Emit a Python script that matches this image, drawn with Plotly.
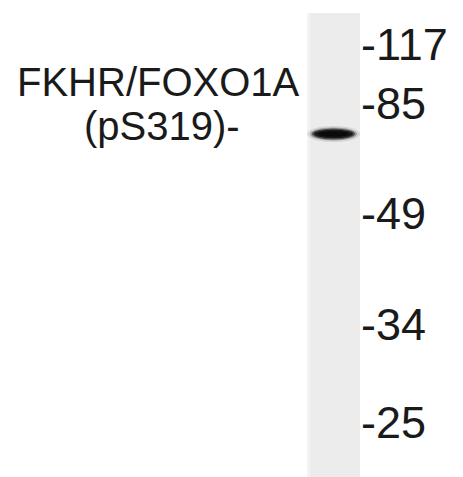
import plotly.graph_objects as go

# ---- data read from the blot ----
ladder_kda = [117, 85, 49, 34, 25]
ladder_migration = [44, 103, 213, 324, 422]   # migration distance (px from top of image)
ladder_text = ["-117", "-85", "-49", "-34", "-25"]
target_lines = ["FKHR/FOXO1A", "(pS319)-"]
band_migration = [134]

W, H = 463, 477
LANE_X0, LANE_X1, LANE_TOP = 307, 360, 13
FONT = "Liberation Sans, Arial, sans-serif"
INK = "#1a1a1a"

fig = go.Figure()

# invisible trace to establish the axes
fig.add_trace(go.Scatter(x=[LANE_X0, LANE_X1], y=[LANE_TOP, H], mode="markers",
                         marker=dict(opacity=0), hoverinfo="skip", showlegend=False))

shapes = []
# lane
shapes.append(dict(type="rect", xref="x", yref="y", x0=LANE_X0, x1=LANE_X1, y0=LANE_TOP, y1=H,
                   fillcolor="#ececec", line=dict(width=0), layer="below"))
shapes.append(dict(type="rect", xref="x", yref="y", x0=LANE_X0, x1=LANE_X0 + 3, y0=LANE_TOP, y1=H,
                   fillcolor="#f3f3f3", line=dict(width=0), layer="below"))

# band(s): layered soft ellipses
for ym in band_migration:
    for (dx0, dx1, dh, col, op) in [
        (307, 360, 8, "#000000", 0.10),
        (310, 357, 6.5, "#000000", 0.25),
        (312, 355, 5.5, "#111111", 0.55),
        (314, 353, 4.2, "#111111", 0.85),
        (318, 349, 2.8, "#0a0a0a", 1.0),
    ]:
        shapes.append(dict(type="circle", xref="x", yref="y", x0=dx0, x1=dx1,
                           y0=ym - dh, y1=ym + dh, fillcolor=col, opacity=op,
                           line=dict(width=0), layer="above"))

fig.update_layout(
    width=W, height=H,
    margin=dict(l=0, r=0, t=0, b=0),
    paper_bgcolor="white", plot_bgcolor="white",
    showlegend=False,
    hovermode=False,
    shapes=shapes,
    xaxis=dict(range=[0, LANE_X1], domain=[0, LANE_X1 / W], visible=False, fixedrange=True),
    yaxis=dict(range=[H, 0], side="right", tickmode="array",
               tickvals=ladder_migration, ticktext=ladder_text,
               tickfont=dict(family=FONT, size=45, color=INK),
               ticks="", showgrid=False, zeroline=False, showline=False, fixedrange=True),
    annotations=[
        dict(x=158, y=82, xref="x", yref="y", text=target_lines[0], showarrow=False,
             xanchor="center", yanchor="middle", font=dict(family=FONT, size=40, color=INK)),
        dict(x=162, y=126, xref="x", yref="y", text=target_lines[1], showarrow=False,
             xanchor="center", yanchor="middle", font=dict(family=FONT, size=40, color=INK)),
    ],
)

fig.write_html("out.html",
               config={"displayModeBar": False, "staticPlot": True},
               post_script="document.body.style.margin='0px';document.body.style.overflow='hidden';")
